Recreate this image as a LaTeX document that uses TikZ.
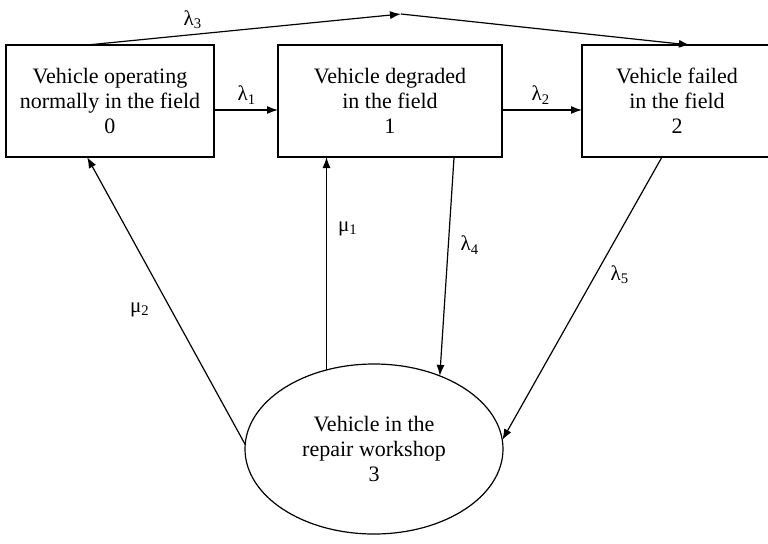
\documentclass[tikz,border=0pt]{standalone}
\usepackage{fontspec}
\setmainfont{Liberation Serif}
\usetikzlibrary{shapes}
\usetikzlibrary{arrows.meta}
\usetikzlibrary{calc}

\begin{document}
\begin{tikzpicture}[x=0.5pt, y=-0.5pt]
	\tikzstyle{box} = [rectangle, draw=black, line width=0.6pt, align=center, text centered, minimum height=56pt, inner sep=0pt, outer sep=0pt, font=\fontsize{11}{12.5}\selectfont]
	\tikzstyle{shop} = [ellipse, draw=black, line width=0.6pt, align=center, minimum width=129pt, minimum height=85pt, inner sep=0pt, outer sep=0pt, font=\fontsize{11}{12.5}\selectfont]
	\tikzstyle{rate} = [font=\fontsize{10.5}{12.5}\selectfont]
	\tikzstyle{arr} = [-{Latex[length=5.5pt, width=4pt]}, line width=0.6pt]
	\useasboundingbox (0, 0) rectangle (768, 543);
	\node (operating)[box, minimum width=104pt] at (110, 101) {Vehicle operating\\normally in the field\\0};
	\node (degraded)[box, minimum width=112pt] at (390, 101) {Vehicle degraded\\in the field\\1};
	\node (failed)[box, minimum width=95pt] at (677, 101) {Vehicle failed\\in the field\\2};
	\node (workshop)[shop] at (374, 449) {Vehicle in the\\repair workshop\\3};
	\coordinate (peak) at (401, 14);
	% transitions in the field
	\draw[arr] ($(operating.north west)!0.39!(operating.north east)$) -- (peak);
	\draw[arr] (peak) -- ($(failed.north west)!0.568!(failed.north east)$);
	\draw[arr] ($(operating.east)+(0, 9)$) -- ($(degraded.west)+(0, 9)$);
	\draw[arr] ($(degraded.east)+(0, 9)$) -- ($(failed.west)+(0, 9)$);
	% to and from the workshop
	\draw[arr] ($(degraded.south west)!0.786!(degraded.south east)$) -- (workshop.48.5);
	\draw[arr] ($(failed.south west)!0.421!(failed.south east)$) -- (workshop.4);
	\draw[arr] (workshop.121.3) -- (workshop.121.3 |- degraded.south);
	\draw[arr] (workshop.178) -- ($(operating.south west)!0.39!(operating.south east)$);
	\node (l3)[rate] at (193, 20) {λ\textsubscript{3}};
	\node (l1)[rate] at (247, 95) {λ\textsubscript{1}};
	\node (l2)[rate] at (541, 95) {λ\textsubscript{2}};
	\node (m1)[rate] at (348, 229) {μ\textsubscript{1}};
	\node (l4)[rate] at (470, 245) {λ\textsubscript{4}};
	\node (l5)[rate] at (620, 275) {λ\textsubscript{5}};
	\node (m2)[rate] at (140, 310) {μ\textsubscript{2}};
\end{tikzpicture}
\end{document}
